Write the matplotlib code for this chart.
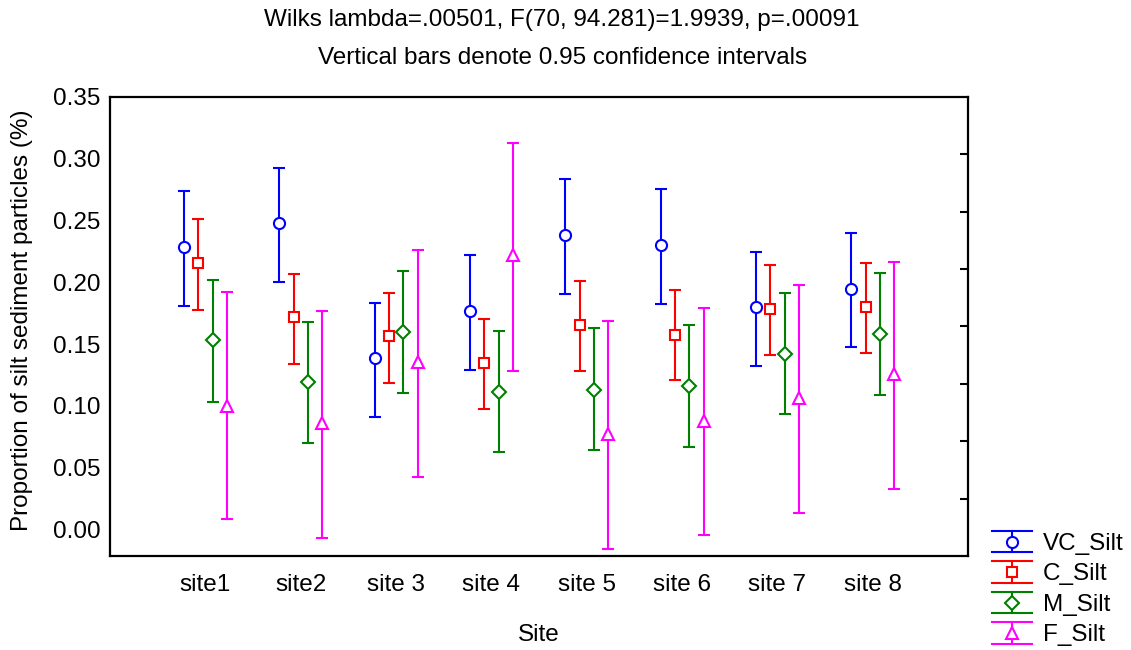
import matplotlib
matplotlib.use("Agg")
import matplotlib.pyplot as plt
from matplotlib.lines import Line2D
from matplotlib.legend_handler import HandlerBase
import numpy as np

plt.rcParams['font.family'] = ['Liberation Sans', 'DejaVu Sans']

# data: means and 0.95 CI bounds
sites = ['site1', 'site2', 'site 3', 'site 4', 'site 5', 'site 6', 'site 7', 'site 8']
series = ['VC_Silt', 'C_Silt', 'M_Silt', 'F_Silt']

vc_mean = [0.2285, 0.2478, 0.1385, 0.1769, 0.2382, 0.2301, 0.1801, 0.1949]
vc_low = [0.1812, 0.2002, 0.0906, 0.1293, 0.1909, 0.1828, 0.1325, 0.1478]
vc_high = [0.2736, 0.2927, 0.1831, 0.2218, 0.2833, 0.2753, 0.2248, 0.2403]

c_mean = [0.2156, 0.1723, 0.1562, 0.1349, 0.1656, 0.1575, 0.1788, 0.1801]
c_low = [0.1777, 0.1336, 0.1183, 0.0973, 0.1282, 0.1207, 0.1411, 0.1425]
c_high = [0.2511, 0.2070, 0.1914, 0.1707, 0.2013, 0.1941, 0.2143, 0.2159]

m_mean = [0.1535, 0.1196, 0.1599, 0.1115, 0.1132, 0.1164, 0.1419, 0.1581]
m_low = [0.1035, 0.0696, 0.1105, 0.0623, 0.0642, 0.0669, 0.0935, 0.1091]
m_high = [0.2016, 0.1680, 0.2089, 0.1607, 0.1627, 0.1651, 0.1917, 0.2075]

f_mean = [0.1003, 0.0863, 0.1357, 0.2218, 0.0774, 0.0881, 0.1062, 0.1258]
f_low = [0.0083, -0.0070, 0.0422, 0.1285, -0.0159, -0.0046, 0.0135, 0.0325]
f_high = [0.1922, 0.1769, 0.2261, 0.3126, 0.1683, 0.1790, 0.1978, 0.2167]

means = [vc_mean, c_mean, m_mean, f_mean]
lows = [vc_low, c_low, m_low, f_low]
highs = [vc_high, c_high, m_high, f_high]

colors = ['#0000ff', '#ff0000', '#008000', '#ff00ff']
markers = ['o', 's', 'D', '^']
msizes = [8, 7.5, 7, 8]
offsets = [-0.225, -0.075, 0.075, 0.225]
FS = 17.5
LW = 1.5


class ErrHandler(HandlerBase):
    # vertical bar with wide caps, like the Statistica legend
    def create_artists(self, legend, orig_handle, xdescent, ydescent,
                       width, height, fontsize, trans):
        col = orig_handle.get_color()
        x0 = -xdescent
        x1 = x0 + width
        xc = (x0 + x1) / 2
        ym = -ydescent + height / 2
        y0 = ym - 0.5 * height
        y1 = ym + 0.5 * height
        arts = [
            Line2D([xc, xc], [y0, y1], color=col, lw=LW, transform=trans),
            Line2D([x0, x1], [y0, y0], color=col, lw=LW, transform=trans),
            Line2D([x0, x1], [y1, y1], color=col, lw=LW, transform=trans),
            Line2D([xc], [ym], marker=orig_handle.get_marker(),
                   markersize=orig_handle.get_markersize(), markerfacecolor='white',
                   markeredgecolor=col, markeredgewidth=LW, linestyle='none',
                   transform=trans),
        ]
        return arts


fig = plt.figure(figsize=(11.31, 6.5), dpi=100)
ax = fig.add_axes([0.0973, 0.1446, 0.7587, 0.7062])

x = np.arange(1, len(sites) + 1)
handles = []
for i in range(len(series)):
    xs = x + offsets[i]
    m = np.array(means[i])
    lo = m - np.array(lows[i])
    hi = np.array(highs[i]) - m
    ax.errorbar(xs, m, yerr=[lo, hi], fmt=markers[i], color=colors[i],
                markerfacecolor='white', markeredgecolor=colors[i],
                markersize=msizes[i], markeredgewidth=LW,
                elinewidth=LW, capsize=4, capthick=LW, zorder=3)
    handles.append(Line2D([], [], color=colors[i], marker=markers[i],
                          markersize=msizes[i]))

ax.set_xlim(0, 9)
ax.set_ylim(-0.0215, 0.35)
ax.set_xticks(x)
ax.set_xticklabels(sites, fontsize=FS)
ax.set_yticks(np.arange(0, 0.36, 0.05))
ax.set_yticklabels(['%.2f' % v for v in np.arange(0, 0.36, 0.05)], fontsize=FS)
ax.tick_params(axis='x', length=0, pad=13)
ax.tick_params(axis='y', length=0, pad=7)
for s in ax.spines.values():
    s.set_linewidth(1.6)

ax2 = ax.twinx()
ax2.set_ylim(0, 8)
ax2.set_yticks(np.arange(1, 8))
ax2.set_yticklabels([])
ax2.tick_params(axis='y', direction='in', length=6, width=1.5)
for s in ax2.spines.values():
    s.set_visible(False)

ax.set_xlabel('Site', fontsize=FS, labelpad=20)
ax.set_ylabel('Proportion of silt sediment particles (%)', fontsize=FS)
ax.yaxis.set_label_coords(-0.0895, 0.513)

fig.text(0.497, 0.969, 'Wilks lambda=.00501, F(70, 94.281)=1.9939, p=.00091',
         ha='center', va='center', fontsize=FS)
fig.text(0.497, 0.911, 'Vertical bars denote 0.95 confidence intervals',
         ha='center', va='center', fontsize=FS)

fig.legend(handles, series, loc='lower left', bbox_to_anchor=(0.8727, -0.002),
           frameon=False, fontsize=FS, handler_map={Line2D: ErrHandler()},
           handlelength=1.65, handleheight=1.0, labelspacing=0.26,
           handletextpad=0.45, borderpad=0.2, borderaxespad=0)

fig.savefig('out.png', dpi=100)
